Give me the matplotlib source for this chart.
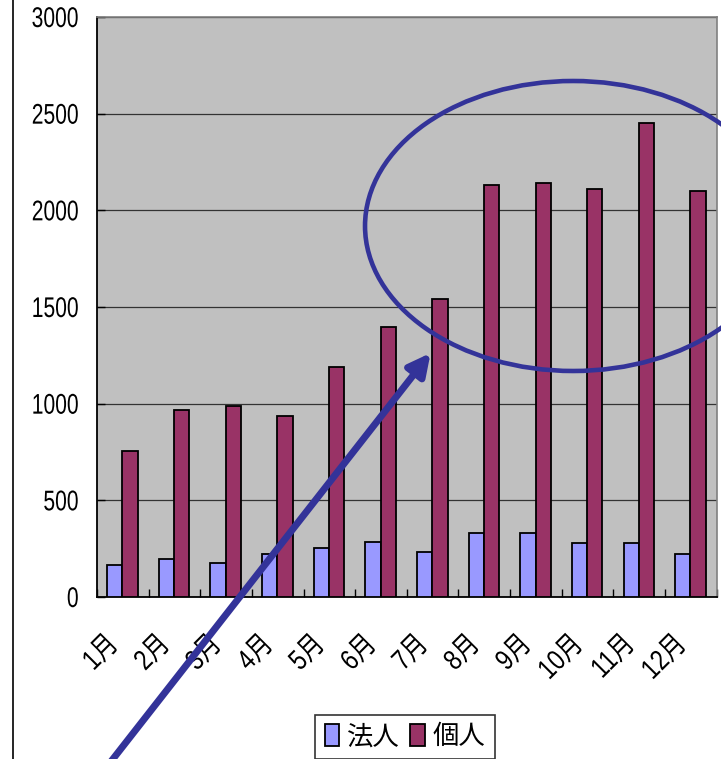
import numpy as np
import matplotlib
matplotlib.use('Agg')
import matplotlib.pyplot as plt
from matplotlib.patches import Ellipse
from matplotlib.lines import Line2D
from matplotlib.transforms import ScaledTranslation, Affine2D
from matplotlib.patheffects import AbstractPathEffect

# data
months = ['1月', '2月', '3月', '4月', '5月', '6月', '7月', '8月', '9月', '10月', '11月', '12月']
houjin = [167, 198, 176, 222, 255, 286, 234, 333, 333, 278, 278, 222]
kojin = [755, 967, 986, 935, 1188, 1397, 1541, 2133, 2143, 2110, 2453, 2102]
series_names = ['法人', '個人']

plt.rcParams['font.family'] = ['Liberation Sans', 'Noto Sans CJK JP', 'DejaVu Sans']


class Squeeze(AbstractPathEffect):
    """Narrow the text horizontally, keeping its end in place."""
    def __init__(self, sx=0.74):
        super().__init__()
        self.sx = sx

    def draw_path(self, renderer, gc, tpath, affine, rgbFace=None):
        x1 = tpath.get_extents().x1
        squeeze = Affine2D().translate(-x1, 0).scale(self.sx, 1).translate(x1, 0)
        renderer.draw_path(gc, tpath, squeeze + affine, rgbFace)


W, H = 721, 759
fig = plt.figure(figsize=(W / 100, H / 100), dpi=100)
ax = fig.add_axes([97 / W, 1 - 597 / H, 619.7 / W, 580 / H])
ax.set_facecolor('#C0C0C0')

x = np.arange(len(months))
width = 0.295
ax.bar(x - 0.155, houjin, width, color='#9999FF', edgecolor='black', linewidth=1.3,
       label=series_names[0], zorder=3)
ax.bar(x + 0.14, kojin, width, color='#993366', edgecolor='black', linewidth=1.3,
       label=series_names[1], zorder=3)

ax.set_xlim(-0.5, len(months) - 0.5)
ax.set_ylim(0, 3000)
ax.set_yticks(np.arange(0, 3001, 500))
ax.yaxis.grid(True, color='#333333', linewidth=0.9)
ax.set_axisbelow(True)

ax.set_xticks(x)
ax.set_xticklabels(months, rotation=45, ha='right', va='center', rotation_mode='anchor')
ax.set_xticks(np.arange(-0.5, len(months), 1), minor=True)
ax.tick_params(axis='x', which='major', length=0, pad=31, labelsize=20.5)
ax.tick_params(axis='x', which='minor', direction='in', length=6, width=1, color='black')
ax.tick_params(axis='y', direction='in', length=6, width=1, pad=13, labelsize=20.5)
shift = ScaledTranslation(-8 / 100, 0, fig.dpi_scale_trans)
for lbl in ax.get_xticklabels():
    lbl.set_transform(lbl.get_transform() + shift)
    lbl.set_path_effects([Squeeze(0.82)])
for lbl in ax.get_yticklabels():
    lbl.set_path_effects([Squeeze(0.74)])

for side in ['left', 'bottom']:
    ax.spines[side].set_color('black')
    ax.spines[side].set_linewidth(1.3)
for side in ['top', 'right']:
    ax.spines[side].set_color('#808080')
    ax.spines[side].set_linewidth(1.2)

# chart area border on the left
fig.add_artist(Line2D([12.5 / W, 12.5 / W], [0, 1], color='black', linewidth=1.2,
                      transform=fig.transFigure))

# blue ellipse and arrow drawn over the chart
ell = Ellipse((8.72, 1919), 8.06, 1500, fill=False, edgecolor='#333399',
              linewidth=3.3, clip_on=False, zorder=5)
ax.add_patch(ell)
ax.annotate('', xy=(5.96, 1262), xytext=(-0.66, -998), xycoords='data',
            annotation_clip=False,
            arrowprops=dict(arrowstyle='-|>,head_length=0.65,head_width=0.33',
                            mutation_scale=20, color='#333399', linewidth=5,
                            shrinkA=0, shrinkB=0), zorder=6)

leg = fig.legend(loc='upper center', bbox_to_anchor=(405 / W, 1 - 715 / H), ncol=2,
                 fontsize=19, frameon=True, fancybox=False, edgecolor='black',
                 handlelength=0.55, handleheight=0.9, handletextpad=0.3,
                 columnspacing=0.4, borderpad=0.35, borderaxespad=0)
leg.get_frame().set_linewidth(1.2)

fig.savefig('out.png', dpi=100, facecolor='white')
